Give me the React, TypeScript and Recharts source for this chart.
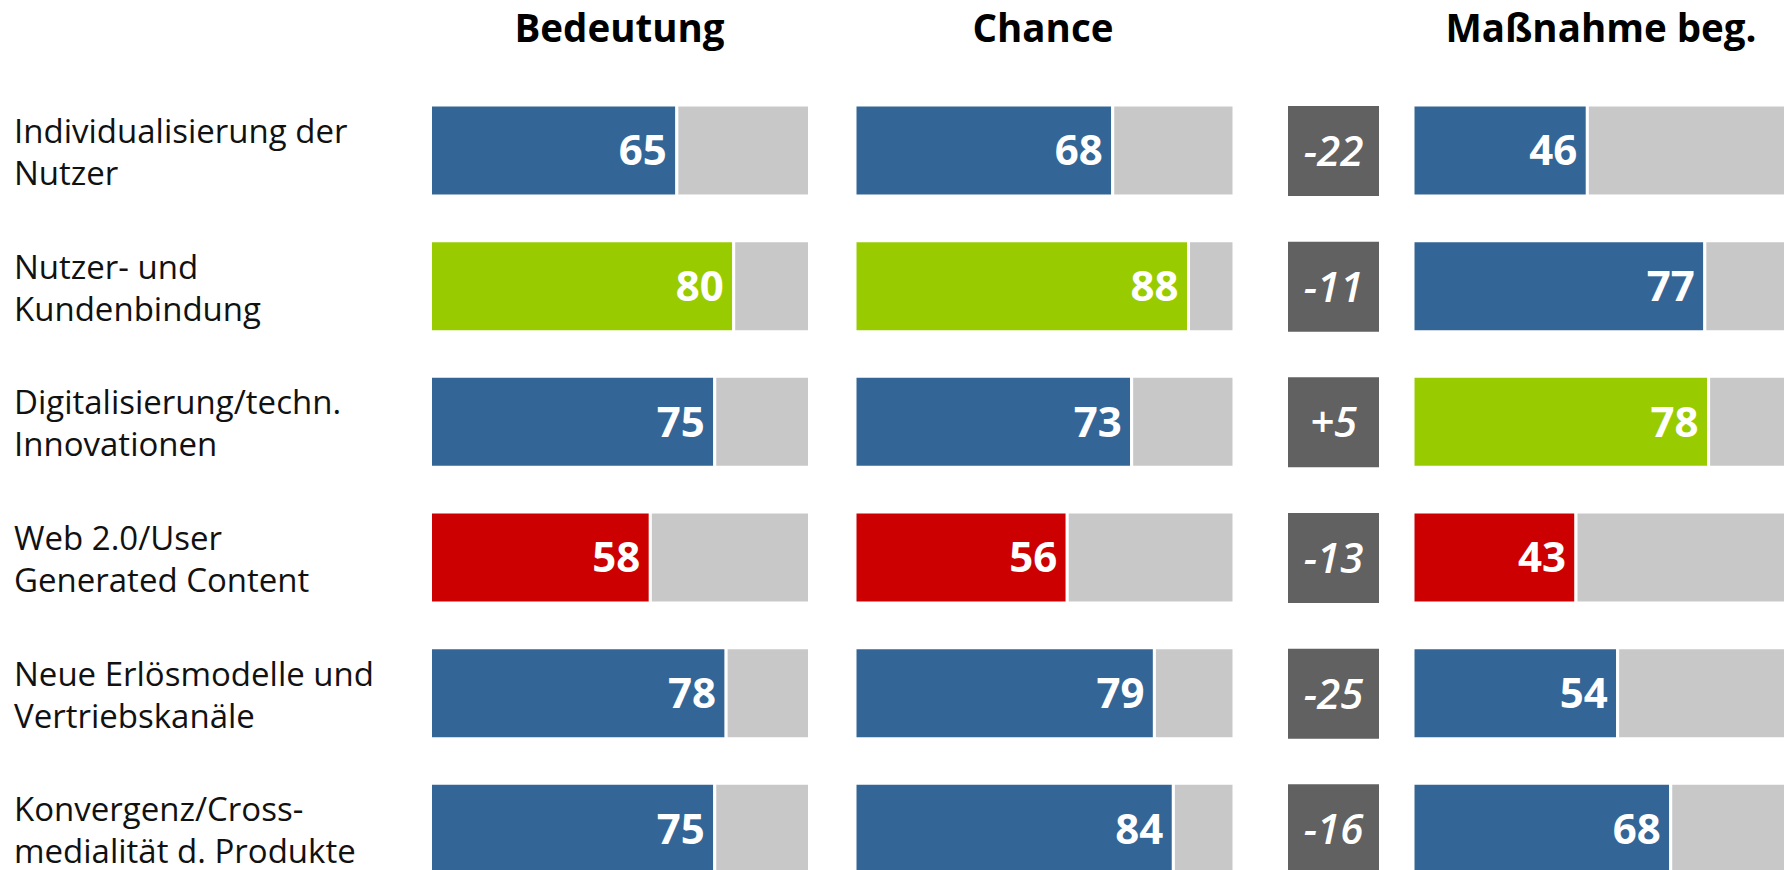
import { Bar, BarChart, Cell, LabelList, XAxis, YAxis } from "recharts";

const FONT = '"Open Sans", "Noto Sans", sans-serif';
const BLUE = "#336697";
const GREEN = "#99CC00";
const RED = "#CC0000";
const GREY = "#C8C8C8";
const DARK = "#616161";

const categories = [
  "Individualisierung der\nNutzer",
  "Nutzer- und\nKundenbindung",
  "Digitalisierung/techn.\nInnovationen",
  "Web 2.0/User\nGenerated Content",
  "Neue Erlösmodelle und\nVertriebskanäle",
  "Konvergenz/Cross-\nmedialität d. Produkte",
];
const headers = ["Bedeutung", "Chance", "Maßnahme beg."];
const bedeutung = [65, 80, 75, 58, 78, 75];
const chance = [68, 88, 73, 56, 79, 84];
const massnahme = [46, 77, 78, 43, 54, 68];
const differenz = [-22, -11, 5, -13, -25, -16];

const rows = categories.map((name, i) => ({
  name,
  bedeutung: bedeutung[i],
  bedeutungRest: 100 - bedeutung[i],
  chance: chance[i],
  chanceRest: 100 - chance[i],
  massnahme: massnahme[i],
  massnahmeRest: 100 - massnahme[i],
  box: 1,
  diff: differenz[i],
}));

// shared vertical layout: six bands of ~135.7px starting at y=83
const CHART_H = 900;
const MARGIN = { top: 83, right: 0, bottom: 3, left: 0 };
const PLOT_W = 379;
const LABEL_W = 430.5;

function CategoryTick(props: any) {
  const { y, payload } = props;
  const lines = String(payload.value).split("\n");
  return (
    <text x={14} y={y} fontFamily={FONT} fontSize={33} fill="#111" textAnchor="start">
      {lines.map((l, i) => (
        <tspan key={i} x={14} y={y - 8 + i * 42}>
          {l}
        </tspan>
      ))}
    </text>
  );
}

function ValueColumn({
  dataKey,
  values,
  left,
  withLabels,
}: {
  dataKey: string;
  values: number[];
  left: number;
  withLabels?: boolean;
}) {
  const max = Math.max(...values);
  const min = Math.min(...values);
  const axisW = withLabels ? LABEL_W : 0;
  return (
    <div style={{ position: "absolute", left: withLabels ? 0 : left, top: 0 }}>
      <BarChart layout="vertical" width={axisW + PLOT_W} height={CHART_H} data={rows} margin={MARGIN}>
        <XAxis type="number" domain={[0, 100]} hide />
        <YAxis
          type="category"
          dataKey="name"
          width={axisW}
          hide={!withLabels}
          axisLine={false}
          tickLine={false}
          tick={(p: any) => <CategoryTick {...p} />}
        />
        <Bar dataKey={dataKey} stackId="s" barSize={91} stroke="#fff" strokeWidth={3} isAnimationActive={false}>
          {values.map((v, i) => (
            <Cell key={i} fill={v === max ? GREEN : v === min ? RED : BLUE} />
          ))}
          <LabelList
            dataKey={dataKey}
            position="insideRight"
            offset={10}
            fill="#fff"
            stroke="none"
            fontFamily={FONT}
            fontSize={42}
            fontWeight={700}
          />
        </Bar>
        <Bar
          dataKey={dataKey + "Rest"}
          stackId="s"
          barSize={91}
          fill={GREY}
          stroke="#fff"
          strokeWidth={3}
          isAnimationActive={false}
        />
      </BarChart>
    </div>
  );
}

function DiffColumn({ left }: { left: number }) {
  return (
    <div style={{ position: "absolute", left, top: 0 }}>
      <BarChart layout="vertical" width={91} height={CHART_H} data={rows} margin={MARGIN}>
        <XAxis type="number" domain={[0, 1]} hide />
        <YAxis type="category" dataKey="name" hide />
        <Bar dataKey="box" fill={DARK} barSize={90} isAnimationActive={false}>
          <LabelList
            dataKey="diff"
            position="center"
            formatter={(v: any) => (Number(v) > 0 ? `+${v}` : `${v}`)}
            fill="#fff"
            stroke="none"
            fontFamily={FONT}
            fontSize={42}
            fontStyle="italic"
            fontWeight={600}
          />
        </Bar>
      </BarChart>
    </div>
  );
}

const headerX = [619.5, 1043, 1601];

export default function App() {
  return (
    <div
      style={{
        position: "absolute",
        left: 0,
        top: 0,
        width: 1784,
        height: 870,
        overflow: "hidden",
        background: "#fff",
      }}
    >
      <svg width={1784} height={80} style={{ position: "absolute", left: 0, top: 0 }}>
        {headers.map((h, i) => (
          <text
            key={h}
            x={headerX[i]}
            y={42}
            textAnchor="middle"
            fontFamily={FONT}
            fontSize={38.5}
            fontWeight={700}
            fill="#000"
          >
            {h}
          </text>
        ))}
      </svg>
      <ValueColumn dataKey="bedeutung" values={bedeutung} left={0} withLabels />
      <ValueColumn dataKey="chance" values={chance} left={854.5} />
      <DiffColumn left={1288} />
      <ValueColumn dataKey="massnahme" values={massnahme} left={1412.5} />
    </div>
  );
}
